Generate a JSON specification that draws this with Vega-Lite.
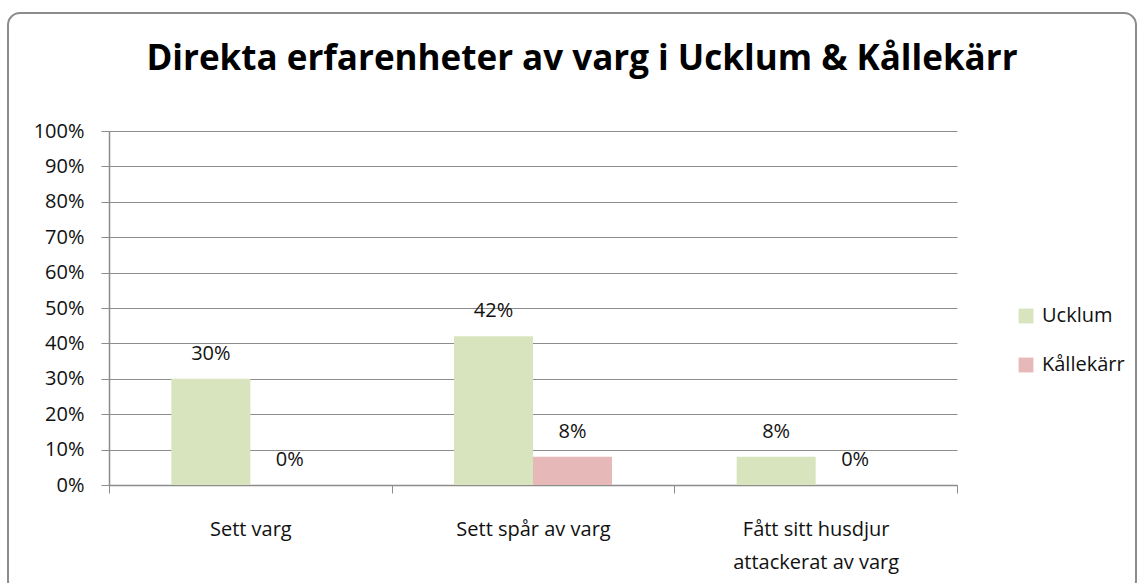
{
  "$schema": "https://vega.github.io/schema/vega-lite/v6.json",
  "width": 1128,
  "height": 580,
  "autosize": {"type": "none"},
  "padding": {"left": 8, "top": 13, "right": 8, "bottom": 0},
  "background": "white",
  "config": {
    "view": {"stroke": "#8c8c8c", "strokeWidth": 2, "cornerRadius": 12},
    "font": "Open Sans"
  },
  "title": {
    "text": "Direkta erfarenheter av varg i Ucklum & Kållekärr",
    "fontSize": 35,
    "fontWeight": "bold",
    "font": "Open Sans",
    "color": "#000000",
    "anchor": "middle",
    "frame": "group",
    "baseline": "alphabetic",
    "offset": 0,
    "dy": 92,
    "dx": 10
  },
  "data": {
    "values": [
      {"kategori": "Sett varg", "omrade": "Ucklum", "andel": 0.30},
      {"kategori": "Sett varg", "omrade": "Kållekärr", "andel": 0.0},
      {"kategori": "Sett spår av varg", "omrade": "Ucklum", "andel": 0.42},
      {"kategori": "Sett spår av varg", "omrade": "Kållekärr", "andel": 0.08},
      {"kategori": "Fått sitt husdjur attackerat av varg", "omrade": "Ucklum", "andel": 0.08},
      {"kategori": "Fått sitt husdjur attackerat av varg", "omrade": "Kållekärr", "andel": 0.0}
    ]
  },
  "encoding": {
    "x": {
      "field": "kategori",
      "type": "nominal",
      "sort": null,
      "scale": {"range": [101, 949], "paddingInner": 0, "paddingOuter": 0},
      "axis": {
        "title": null,
        "offset": -108,
        "labelAngle": 0,
        "labelFontSize": 20,
        "labelColor": "#111111",
        "labelPadding": 26,
        "labelLineHeight": 33,
        "labelExpr": "datum.value == 'Fått sitt husdjur attackerat av varg' ? ['Fått sitt husdjur', 'attackerat av varg'] : datum.value",
        "tickBand": "extent",
        "tickSize": 8,
        "tickColor": "#8c8c8c",
        "domainColor": "#8c8c8c",
        "domainWidth": 1.5,
        "grid": false
      }
    },
    "xOffset": {
      "field": "omrade",
      "type": "nominal",
      "sort": ["Ucklum", "Kållekärr"],
      "scale": {"paddingInner": 0, "paddingOuter": 0.789}
    },
    "y": {
      "field": "andel",
      "type": "quantitative",
      "scale": {"domain": [0, 1], "range": [472, 118], "nice": false},
      "axis": {
        "title": null,
        "offset": -101,
        "values": [0, 0.1, 0.2, 0.3, 0.4, 0.5, 0.6, 0.7, 0.8, 0.9, 1],
        "format": ".0%",
        "labelFontSize": 20,
        "labelColor": "#111111",
        "labelPadding": 17,
        "tickSize": 8,
        "tickColor": "#8c8c8c",
        "domainColor": "#8c8c8c",
        "domainWidth": 1.5,
        "gridColor": "#8c8c8c",
        "gridWidth": 1.2
      }
    }
  },
  "layer": [
    {
      "mark": {"type": "bar"},
      "encoding": {
        "color": {
          "field": "omrade",
          "type": "nominal",
          "sort": ["Ucklum", "Kållekärr"],
          "scale": {"domain": ["Ucklum", "Kållekärr"], "range": ["#d7e4bd", "#e6b9b8"]},
          "legend": {
            "title": null,
            "orient": "none",
            "legendX": 1008,
            "legendY": 293,
            "symbolType": "square",
            "symbolSize": 220,
            "symbolStrokeWidth": 0,
            "labelFontSize": 20,
            "labelColor": "#111111",
            "rowPadding": 29,
            "labelOffset": 6
          }
        }
      }
    },
    {
      "mark": {"type": "text", "baseline": "bottom", "dy": -15, "fontSize": 20, "color": "#111111"},
      "encoding": {
        "text": {"field": "andel", "type": "quantitative", "format": ".0%"}
      }
    }
  ]
}
